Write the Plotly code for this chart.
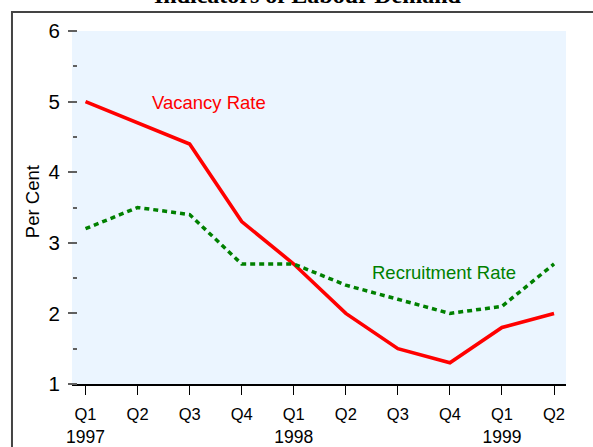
import plotly.graph_objects as go

# Quarterly labour-demand indicators, per cent
quarters = ["Q1", "Q2", "Q3", "Q4", "Q1", "Q2", "Q3", "Q4", "Q1", "Q2"]
year_positions = [0, 4, 8]
year_labels = ["1997", "1998", "1999"]
vacancy_rate = [5.0, 4.7, 4.4, 3.3, 2.7, 2.0, 1.5, 1.3, 1.8, 2.0]
recruitment_rate = [3.2, 3.5, 3.4, 2.7, 2.7, 2.4, 2.2, 2.0, 2.1, 2.7]
y_ticks = [1, 2, 3, 4, 5, 6]
y_minor = [1.5, 2.5, 3.5, 4.5, 5.5]

x_idx = list(range(len(quarters)))
x_range = [-0.26, 9.23]

SANS = "Arial, 'Liberation Sans', sans-serif"
SERIF = "'Times New Roman', 'Liberation Serif', serif"
RED = "#ff0000"
GREEN = "#008000"
TICK_GREY = "#606060"

fig = go.Figure()
fig.add_trace(go.Scatter(
    x=x_idx, y=vacancy_rate, mode="lines", name="Vacancy Rate",
    line=dict(color=RED, width=3.6), showlegend=False, hoverinfo="skip",
))
fig.add_trace(go.Scatter(
    x=x_idx, y=recruitment_rate, mode="lines", name="Recruitment Rate",
    line=dict(color=GREEN, width=3.5, dash="5px,4px"), showlegend=False,
    hoverinfo="skip",
))
# empty trace that carries the year axis
fig.add_trace(go.Scatter(x=[None], y=[None], xaxis="x2", showlegend=False,
                         hoverinfo="skip"))

fig.update_layout(
    width=593, height=447,
    margin=dict(l=72, r=27, t=31, b=63),
    paper_bgcolor="white",
    plot_bgcolor="#ebf5ff",
    font=dict(family=SANS, color="black"),
    xaxis=dict(
        range=x_range,
        tickmode="array", tickvals=x_idx, ticktext=quarters,
        showgrid=False, zeroline=False,
        showline=True, linecolor="black", linewidth=1.5,
        ticks="outside", ticklen=9, tickwidth=1, tickcolor="black",
        tickfont=dict(size=16.5, family=SANS, color="black"),
        ticklabelstandoff=5,
        automargin=False, fixedrange=True,
    ),
    xaxis2=dict(
        range=x_range, overlaying="x", anchor="y", side="bottom",
        tickmode="array", tickvals=year_positions, ticktext=year_labels,
        showgrid=False, zeroline=False, showline=False, ticks="",
        tickfont=dict(size=17.5, family=SANS, color="black"),
        ticklabelstandoff=40,
        automargin=False, fixedrange=True,
    ),
    yaxis=dict(
        range=[1, 6], anchor="free", position=0.0101,
        tickmode="array", tickvals=y_ticks,
        showgrid=False, zeroline=False, showline=False,
        ticks="outside", ticklen=9, tickwidth=1.5, tickcolor=TICK_GREY,
        tickfont=dict(size=20.5, family=SANS, color="black"),
        ticklabelstandoff=4,
        minor=dict(tickvals=y_minor, ticks="outside",
                   ticklen=4, tickwidth=1.5, tickcolor=TICK_GREY),
        automargin=False, fixedrange=True,
    ),
)

fig.add_annotation(
    x=2.38, y=4.99, xref="x", yref="y", text="Vacancy Rate",
    showarrow=False, font=dict(size=18.5, color=RED, family=SANS),
)
fig.add_annotation(
    x=6.88, y=2.58, xref="x", yref="y", text="Recruitment Rate",
    showarrow=False, font=dict(size=18.5, color=GREEN, family=SANS),
)
fig.add_annotation(
    x=-0.081, y=0.518, xref="paper", yref="paper", text="Per Cent",
    textangle=-90, showarrow=False, xanchor="center", yanchor="middle",
    font=dict(size=18.5, color="black", family=SANS),
)
fig.add_annotation(
    x=0.4787, y=1.0595, xref="paper", yref="paper",
    text="<b>Indicators of Labour Demand</b>",
    showarrow=False, xanchor="center", yanchor="bottom",
    font=dict(size=24, color="black", family=SERIF),
)

# frame around the whole chart
fig.add_shape(
    type="rect", xref="paper", yref="paper",
    x0=-0.1215, y0=-0.25, x1=1.1, y1=1.0538,
    line=dict(color="#444444", width=2), fillcolor="rgba(0,0,0,0)",
    layer="above",
)

fig.write_html("out.html")
